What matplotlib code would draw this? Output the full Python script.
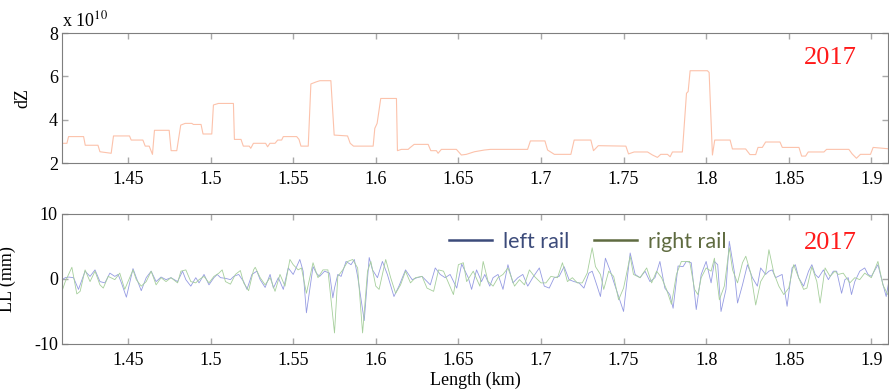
import matplotlib.pyplot as plt
from matplotlib.lines import Line2D

# dZ trace (values in units of 1e10)
dz_km = [1.4100, 1.4130, 1.4140, 1.4231, 1.4241, 1.4318, 1.4330, 1.4398, 1.4412, 1.4509,
         1.4519, 1.4590, 1.4604, 1.4628, 1.4648, 1.4660, 1.4749, 1.4761, 1.4795, 1.4819,
         1.4846, 1.4886, 1.4896, 1.4942, 1.4954, 1.5007, 1.5017, 1.5047, 1.5138, 1.5144,
         1.5184, 1.5198, 1.5234, 1.5243, 1.5259, 1.5333, 1.5345, 1.5359, 1.5390, 1.5406,
         1.5430, 1.5440, 1.5521, 1.5535, 1.5547, 1.5591, 1.5607, 1.5641, 1.5662, 1.5728,
         1.5748, 1.5829, 1.5845, 1.5865, 1.5984, 1.5994, 1.6008, 1.6030, 1.6125, 1.6131,
         1.6155, 1.6196, 1.6206, 1.6232, 1.6317, 1.6333, 1.6367, 1.6377, 1.6397, 1.6488,
         1.6518, 1.6548, 1.6597, 1.6657, 1.6694, 1.6919, 1.6936, 1.7024, 1.7040, 1.7081,
         1.7181, 1.7201, 1.7302, 1.7318, 1.7347, 1.7514, 1.7530, 1.7564, 1.7645, 1.7675,
         1.7705, 1.7725, 1.7766, 1.7782, 1.7796, 1.7856, 1.7881, 1.7891, 1.7903, 1.8008,
         1.8018, 1.8038, 1.8052, 1.8145, 1.8159, 1.8239, 1.8265, 1.8300, 1.8314, 1.8340,
         1.8360, 1.8447, 1.8461, 1.8562, 1.8578, 1.8602, 1.8618, 1.8713, 1.8729, 1.8864,
         1.8884, 1.8910, 1.8934, 1.8995, 1.9011, 1.9100]
dz_val = [2.91, 2.91, 3.22, 3.22, 2.82, 2.82, 2.52, 2.45, 3.25, 3.25,
          3.06, 3.06, 2.78, 2.78, 2.40, 3.51, 3.51, 2.57, 2.57, 3.75,
          3.83, 3.83, 3.78, 3.78, 3.34, 3.34, 4.68, 4.75, 4.75, 3.09,
          3.09, 2.78, 2.78, 2.68, 2.91, 2.91, 2.75, 2.91, 2.91, 3.06,
          3.06, 3.22, 3.22, 3.09, 2.78, 2.78, 5.65, 5.75, 5.80, 5.80,
          3.29, 3.25, 2.91, 2.78, 2.78, 3.60, 3.83, 4.98, 4.98, 2.57,
          2.63, 2.63, 2.70, 2.86, 2.86, 2.57, 2.57, 2.45, 2.63, 2.63,
          2.37, 2.40, 2.52, 2.60, 2.63, 2.63, 3.02, 3.02, 2.60, 2.40,
          2.40, 3.06, 3.06, 2.57, 2.80, 2.78, 2.42, 2.51, 2.51, 2.37,
          2.26, 2.40, 2.40, 2.29, 2.51, 2.51, 5.22, 5.30, 6.26, 6.26,
          6.18, 2.37, 3.06, 3.06, 2.65, 2.65, 2.39, 2.39, 2.72, 2.72,
          2.97, 2.97, 2.72, 2.72, 2.32, 2.32, 2.51, 2.51, 2.63, 2.63,
          2.42, 2.22, 2.40, 2.40, 2.72, 2.66]

# left rail LL (mm)
left_km = [1.410, 1.412, 1.414, 1.417, 1.420, 1.424, 1.427, 1.430, 1.433, 1.436,
           1.439, 1.442, 1.444, 1.446, 1.449, 1.453, 1.455, 1.458, 1.461, 1.464,
           1.467, 1.470, 1.473, 1.476, 1.480, 1.483, 1.485, 1.488, 1.491, 1.493,
           1.496, 1.499, 1.502, 1.504, 1.506, 1.509, 1.512, 1.514, 1.517, 1.520,
           1.522, 1.525, 1.528, 1.530, 1.533, 1.536, 1.538, 1.541, 1.544, 1.547,
           1.550, 1.554, 1.556, 1.558, 1.562, 1.564, 1.566, 1.569, 1.572, 1.574,
           1.575, 1.577, 1.579, 1.582, 1.585, 1.587, 1.589, 1.593, 1.596, 1.598,
           1.601, 1.604, 1.607, 1.611, 1.614, 1.618, 1.622, 1.625, 1.628, 1.633,
           1.636, 1.639, 1.642, 1.645, 1.649, 1.652, 1.656, 1.658, 1.661, 1.664,
           1.666, 1.669, 1.671, 1.674, 1.677, 1.680, 1.683, 1.686, 1.689, 1.692,
           1.695, 1.699, 1.702, 1.705, 1.708, 1.711, 1.714, 1.717, 1.720, 1.723,
           1.726, 1.729, 1.731, 1.734, 1.736, 1.739, 1.742, 1.744, 1.747, 1.750,
           1.752, 1.754, 1.757, 1.760, 1.763, 1.766, 1.769, 1.772, 1.775, 1.778,
           1.780, 1.783, 1.786, 1.788, 1.791, 1.794, 1.797, 1.800, 1.803, 1.805,
           1.807, 1.809, 1.812, 1.814, 1.817, 1.819, 1.822, 1.825, 1.828, 1.831,
           1.833, 1.836, 1.838, 1.840, 1.842, 1.846, 1.849, 1.852, 1.854, 1.856,
           1.859, 1.862, 1.864, 1.866, 1.868, 1.871, 1.874, 1.877, 1.879, 1.882,
           1.884, 1.886, 1.888, 1.890, 1.893, 1.896, 1.898, 1.900, 1.904, 1.906,
           1.909, 1.911]
left_ll = [-0.1, 0.2, 0.3, 0.2, -1.6, 1.2, 0.4, 1.4, -0.4, -0.6,
           0.9, 0.4, 0.7, -0.6, -2.8, 1.6, 0.2, -1.8, 0.2, 1.2,
           -0.4, 0.3, -0.1, 0.2, -0.4, 1.2, -0.1, -1.1, 0.2, -0.6,
           0.7, -0.9, 0.2, 0.7, 0.2, 0.1, -0.1, 0.4, 0.7, -0.4,
           -1.6, 0.7, 1.2, -0.1, -1.3, 0.7, -1.4, 0.2, -1.6, 1.7,
           0.7, 3.0, 1.2, -5.2, 1.9, 0.9, 0.4, 1.2, 0.9, -2.9,
           -1.4, 0.7, 0.4, 2.7, 2.2, 3.0, 0.4, -6.4, 3.3, 1.4,
           0.2, 2.7, 0.7, -2.7, -1.1, 1.4, -0.1, 0.2, 0.4, -0.9,
           1.7, 0.7, 0.2, 0.7, -1.4, 2.3, 0.2, -1.6, 1.4, -0.4,
           0.7, -1.1, 0.2, 0.7, -1.6, 2.2, -0.6, 0.2, 0.7, -1.1,
           0.2, 1.7, -1.1, -1.4, 0.2, 0.4, 1.9, -0.1, -0.4, -0.6,
           -1.4, 0.9, 1.2, -1.1, -2.7, 3.2, 1.2, -0.4, -2.7, -5.0,
           -0.4, 4.0, 0.7, 0.2, 1.2, -0.4, 0.2, 2.7, -1.4, -2.4,
           -4.5, 2.0, 1.9, 2.7, 2.5, -4.7, 0.7, 2.7, -0.6, 2.7,
           2.2, -5.0, -1.6, 5.8, 1.2, -3.7, -0.9, 2.2, 0.2, -1.1,
           1.7, 0.7, 1.2, 1.4, 0.2, 0.7, -4.2, 1.7, 2.2, 0.2,
           -1.1, 1.2, 2.2, 0.7, 0.2, 1.4, -0.1, 1.2, 1.2, -2.2,
           -0.1, 0.2, -2.4, -0.4, 1.2, 1.7, 0.7, 0.4, 2.2, 0.2,
           -2.7, 0.2]

# right rail LL (mm)
right_km = [1.410, 1.412, 1.416, 1.419, 1.421, 1.424, 1.427, 1.430, 1.433, 1.435,
            1.438, 1.442, 1.445, 1.448, 1.453, 1.455, 1.458, 1.461, 1.464, 1.467,
            1.470, 1.473, 1.476, 1.480, 1.482, 1.485, 1.488, 1.491, 1.493, 1.496,
            1.499, 1.502, 1.505, 1.507, 1.509, 1.512, 1.515, 1.518, 1.520, 1.523,
            1.526, 1.527, 1.530, 1.533, 1.536, 1.539, 1.542, 1.545, 1.548, 1.550,
            1.553, 1.555, 1.558, 1.562, 1.565, 1.568, 1.571, 1.575, 1.577, 1.580,
            1.583, 1.586, 1.589, 1.592, 1.595, 1.597, 1.600, 1.602, 1.606, 1.609,
            1.612, 1.615, 1.618, 1.621, 1.624, 1.628, 1.631, 1.635, 1.638, 1.641,
            1.644, 1.647, 1.650, 1.653, 1.655, 1.659, 1.663, 1.665, 1.668, 1.671,
            1.674, 1.677, 1.680, 1.684, 1.687, 1.690, 1.693, 1.696, 1.700, 1.703,
            1.706, 1.710, 1.713, 1.716, 1.719, 1.722, 1.725, 1.728, 1.731, 1.733,
            1.736, 1.738, 1.741, 1.744, 1.747, 1.750, 1.754, 1.756, 1.760, 1.764,
            1.767, 1.770, 1.773, 1.776, 1.779, 1.782, 1.785, 1.790, 1.793, 1.795,
            1.797, 1.800, 1.803, 1.805, 1.808, 1.811, 1.814, 1.816, 1.819, 1.822,
            1.824, 1.827, 1.830, 1.833, 1.836, 1.838, 1.841, 1.844, 1.847, 1.850,
            1.853, 1.856, 1.859, 1.861, 1.864, 1.867, 1.869, 1.872, 1.875, 1.878,
            1.880, 1.883, 1.887, 1.890, 1.893, 1.896, 1.900, 1.904, 1.907, 1.910]
right_ll = [-1.9, -0.4, 1.8, -2.3, -1.9, 1.4, -0.4, 1.2, -0.9, -1.4,
            0.4, -0.1, 0.9, -1.6, 1.4, -0.1, -1.1, -0.4, 1.2, -0.9,
            0.2, -0.4, 0.2, -0.6, 1.2, 1.4, -0.4, -0.6, -0.1, 0.4,
            -0.6, 0.4, 0.9, 1.4, -0.4, -0.8, 0.7, 1.3, -0.6, -1.8,
            1.4, 1.8, 0.2, -0.9, 0.2, -1.9, 0.7, -1.1, 3.0, 2.2,
            1.4, 1.7, -2.2, 2.5, 0.2, 1.4, 1.4, -8.3, 0.4, 1.4,
            2.7, 3.0, 1.7, -8.3, 1.2, 2.7, -1.1, -1.6, 3.0, 0.2,
            -2.2, -0.9, 1.2, -0.6, 0.2, 0.4, -1.4, -1.9, 1.4, 1.2,
            -0.6, -2.4, 2.2, 2.5, -0.4, 1.2, -1.1, 2.7, -0.4, -1.1,
            0.2, 0.7, 1.7, -1.1, -0.1, -0.9, 1.4, 0.4, -0.6, -0.6,
            0.4, 0.2, 2.5, -0.4, 0.2, -0.6, -0.6, 0.9, 4.8, 1.9,
            0.7, -1.6, 1.2, 0.4, -3.2, -1.4, 3.5, 0.7, 0.2, 1.7,
            -0.6, 1.2, 0.2, -1.6, -3.9, 0.7, 2.7, 2.7, -1.6, -2.4,
            0.2, 1.7, 1.2, 3.2, -3.2, -1.1, 4.8, 1.4, -0.6, 2.5,
            3.5, 0.9, -4.0, -0.4, 0.9, 4.5, 0.9, -1.1, -2.4, -1.4,
            2.2, 0.2, -1.6, -1.4, 1.9, -0.4, -3.7, 1.7, 0.4, 1.2,
            0.7, 0.9, -0.6, 0.2, -0.1, 0.9, 0.2, 2.7, -0.9, -2.4]

x_ticks = [1.45, 1.5, 1.55, 1.6, 1.65, 1.7, 1.75, 1.8, 1.85, 1.9]
x_labels = ["1.45", "1.5", "1.55", "1.6", "1.65", "1.7", "1.75", "1.8", "1.85", "1.9"]

plt.rcParams['font.family'] = ['Liberation Serif', 'DejaVu Serif']
plt.rcParams['mathtext.fontset'] = 'stix'
plt.rcParams['axes.unicode_minus'] = False

YEAR_RED = '#ff1a1a'


def styleAxis(ax):
    ax.tick_params(direction='in', top=True, right=True, length=4, width=1,
                   color='#a8a8a8', labelsize=13)
    ax.tick_params(axis='x', pad=6)
    ax.tick_params(axis='y', pad=3)
    for s in ax.spines.values():
        s.set_color('#7f7f7f')
        s.set_linewidth(0.8)
    ax.set_xlim(1.41, 1.91)
    ax.set_xticks(x_ticks)
    ax.set_xticklabels(x_labels)


fig = plt.figure(figsize=(8.89, 3.9), dpi=100)
axTop = fig.add_axes([0.0697, 0.582, 0.929, 0.3333])
axBot = fig.add_axes([0.0697, 0.118, 0.929, 0.3333])

# top: dZ
axTop.plot(dz_km, dz_val, color='#fcc2ab', lw=0.8)
styleAxis(axTop)
axTop.set_ylim(2, 8)
axTop.set_yticks([2, 4, 6, 8])
axTop.set_ylabel('dZ', fontsize=13)
axTop.yaxis.set_label_coords(-0.0375, 0.5)
axTop.text(0.93, 0.808, '2017', transform=axTop.transAxes, color=YEAR_RED,
           fontsize=19, ha='center', va='center')
fig.text(62 / 889, 1 - 26 / 390, r'x 10$^{10}$', fontsize=13, va='baseline')

# bottom: LL
axBot.plot(left_km, left_ll, color='#959be2', lw=0.6)
axBot.plot(right_km, right_ll, color='#a6cf9c', lw=0.6)
styleAxis(axBot)
axBot.set_ylim(-10, 10)
axBot.set_yticks([-10, 0, 10])
axBot.set_ylabel('LL (mm)', fontsize=13)
axBot.yaxis.set_label_coords(-0.0557, 0.5)
axBot.set_xlabel('Length (km)', fontsize=13)
axBot.xaxis.set_label_coords(0.5, -0.215)
axBot.text(0.93, 0.777, '2017', transform=axBot.transAxes, color=YEAR_RED,
           fontsize=19, ha='center', va='center')

handles = [Line2D([], [], color='#3c4b7a', lw=1.8),
           Line2D([], [], color='#5f6b40', lw=1.8)]
axBot.legend(handles, ['left rail', 'right rail'], ncol=2, frameon=False,
             loc='center left', bbox_to_anchor=(0.4685, 0.787),
             borderpad=0, borderaxespad=0, handlelength=2.0,
             handletextpad=0.5, columnspacing=1.15,
             labelcolor=['#3c4b7a', '#5f6b40'],
             prop={'family': 'Lato', 'size': 15.5})

fig.savefig('out.png', dpi=100)
